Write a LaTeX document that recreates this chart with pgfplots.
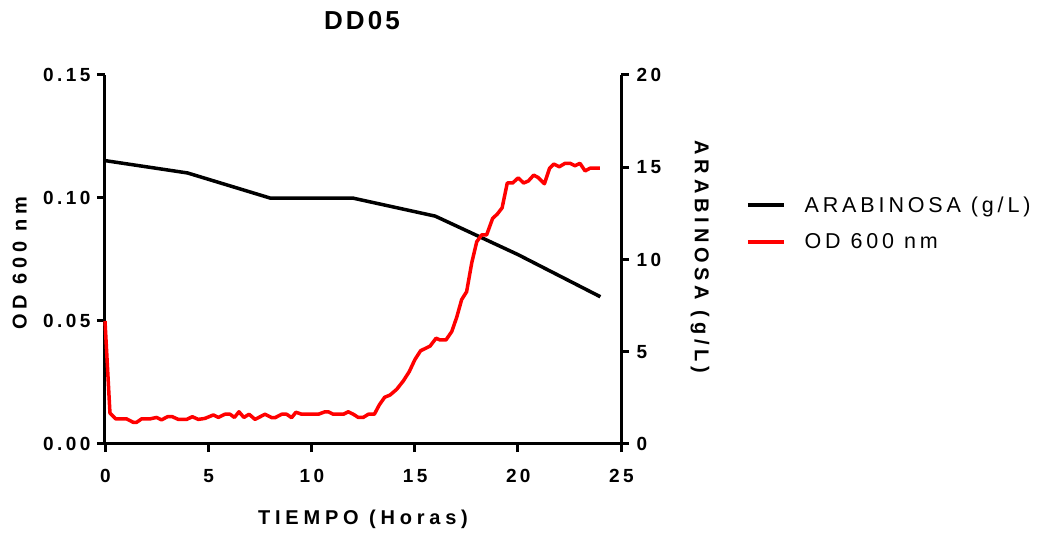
\documentclass[border=0pt]{standalone}
\usepackage{fontspec}
\setmainfont{Liberation Sans}
\newfontfamily\tickf[LetterSpace=18]{Liberation Sans}
\newfontfamily\labf[LetterSpace=24]{Liberation Sans}
\newfontfamily\legf[LetterSpace=18]{Liberation Sans}
\newfontfamily\titf[LetterSpace=12]{Liberation Sans}
\usepackage{pgfplots}
\pgfplotsset{compat=1.18}

\pgfplotsset{
  common/.style={
    scale only axis, width=516pt, height=369pt,
    xmin=0, xmax=25, clip=false,
    axis line style={line width=3pt, -},
    every tick/.style={line width=3pt, black},
    tick align=outside, major tick length=8pt,
    minor tick num=0,
    /pgf/number format/assume math mode=true,
    tick label style={font=\tickf\bfseries\fontsize{19}{22}\selectfont},
  },
}

\begin{document}
\begin{tikzpicture}
\path[use as bounding box] (-105pt,-90pt) rectangle (938pt,444pt);

% right axis: arabinosa, with the x axis and the legend
\begin{axis}[
  common,
  axis x line*=bottom, axis y line*=right,
  ymin=0, ymax=20,
  xtick={0,5,10,15,20,25}, xticklabels={0,5,10,15,20,25},
  ytick={0,5,10,15,20}, yticklabels={0,5,10,15,20},
  xticklabel style={yshift=-14pt, xshift=0.5pt},
  yticklabel style={xshift=4pt},
  xlabel={TIEMPO (Horas)},
  every axis x label/.style={at={(axis description cs:0.5,-0.203)}, anchor=center,
    font=\labf\bfseries\fontsize{20}{22}\selectfont},
  ylabel={ARABINOSA (g/L)},
  every axis y label/.style={at={(axis description cs:1.153,0.507)}, anchor=center,
    rotate=-90, font=\labf\bfseries\fontsize{20}{22}\selectfont},
  title={DD05},
  every axis title/.style={at={(axis description cs:0.498,1.148)}, anchor=center,
    font=\titf\bfseries\fontsize{26}{28}\selectfont},
  legend style={at={(axis description cs:1.2421,0.5976)}, anchor=west,
    draw=none, fill=none, inner sep=0pt, row sep=20pt, column sep=19pt,
    nodes={inner sep=0pt, anchor=west},
    font=\legf\fontsize{21.5}{24}\selectfont},
  legend cell align=left,
  legend image code/.code={\draw[#1, line width=3.5pt] (0pt,0pt) -- (36pt,0pt);},
]
\addplot[black, line width=3.5pt, line join=round] coordinates {
  (0,15.36) (4,14.69) (8,13.33) (12,13.33) (16,12.35) (20,10.27) (24,7.98)
};
\addlegendentry{ARABINOSA (g/L)}
\addlegendimage{red, line width=3.5pt}
\addlegendentry{OD 600 nm}
\end{axis}

% left axis: OD 600 nm
\begin{axis}[
  common,
  axis x line=none, axis y line*=left,
  ymin=0, ymax=0.15,
  ytick={0,0.05,0.10,0.15}, yticklabels={0.00,0.05,0.10,0.15},
  yticklabel style={xshift=-3pt},
  ylabel={OD 600 nm},
  every axis y label/.style={at={(axis description cs:-0.165,0.49)}, anchor=center,
    rotate=90, font=\labf\bfseries\fontsize{20}{22}\selectfont},
]
\addplot[red, line width=3.5pt, line join=round] coordinates {
  (0,0.050) (0.24,0.0126) (0.52,0.0102) (1.05,0.0102) (1.37,0.0088)
  (1.53,0.0088) (1.77,0.0102) (2.18,0.0102) (2.50,0.0108) (2.74,0.0098)
  (3.03,0.0111) (3.26,0.0111) (3.55,0.0100) (3.96,0.0100) (4.23,0.0111)
  (4.52,0.0100) (4.84,0.0104) (5.25,0.0118) (5.49,0.0108) (5.81,0.0121)
  (6.06,0.0121) (6.27,0.0108) (6.49,0.0131) (6.73,0.0108) (6.98,0.0121)
  (7.27,0.0100) (7.75,0.0121) (8.08,0.0107) (8.24,0.0107) (8.56,0.0121)
  (8.80,0.0121) (9.04,0.0107) (9.25,0.0129) (9.53,0.0121) (10.34,0.0121)
  (10.66,0.0131) (10.82,0.0131) (11.06,0.0121) (11.55,0.0121) (11.79,0.0131)
  (12.03,0.0121) (12.27,0.0108) (12.51,0.0108) (12.76,0.0121) (13.05,0.0121)
  (13.29,0.0159) (13.55,0.0190) (13.81,0.0199) (14.13,0.0222) (14.45,0.0256)
  (14.74,0.0294) (15.02,0.0344) (15.29,0.0379) (15.75,0.0398) (16.04,0.0430)
  (16.23,0.0423) (16.52,0.0423) (16.80,0.0457) (17.04,0.0515) (17.28,0.0587)
  (17.52,0.0619) (17.77,0.0737) (18.01,0.0822) (18.25,0.0850) (18.49,0.0850)
  (18.78,0.0917) (19.01,0.0935) (19.24,0.0960) (19.49,0.1061) (19.75,0.1061)
  (20.02,0.1082) (20.28,0.1061) (20.51,0.1069) (20.77,0.1093) (20.99,0.1083)
  (21.29,0.1058) (21.54,0.1121) (21.75,0.1138) (22.01,0.1127) (22.29,0.1141)
  (22.53,0.1141) (22.77,0.1131) (23.01,0.1141) (23.26,0.1110) (23.50,0.1121)
  (23.98,0.1121)
};
\end{axis}
\end{tikzpicture}
\end{document}
